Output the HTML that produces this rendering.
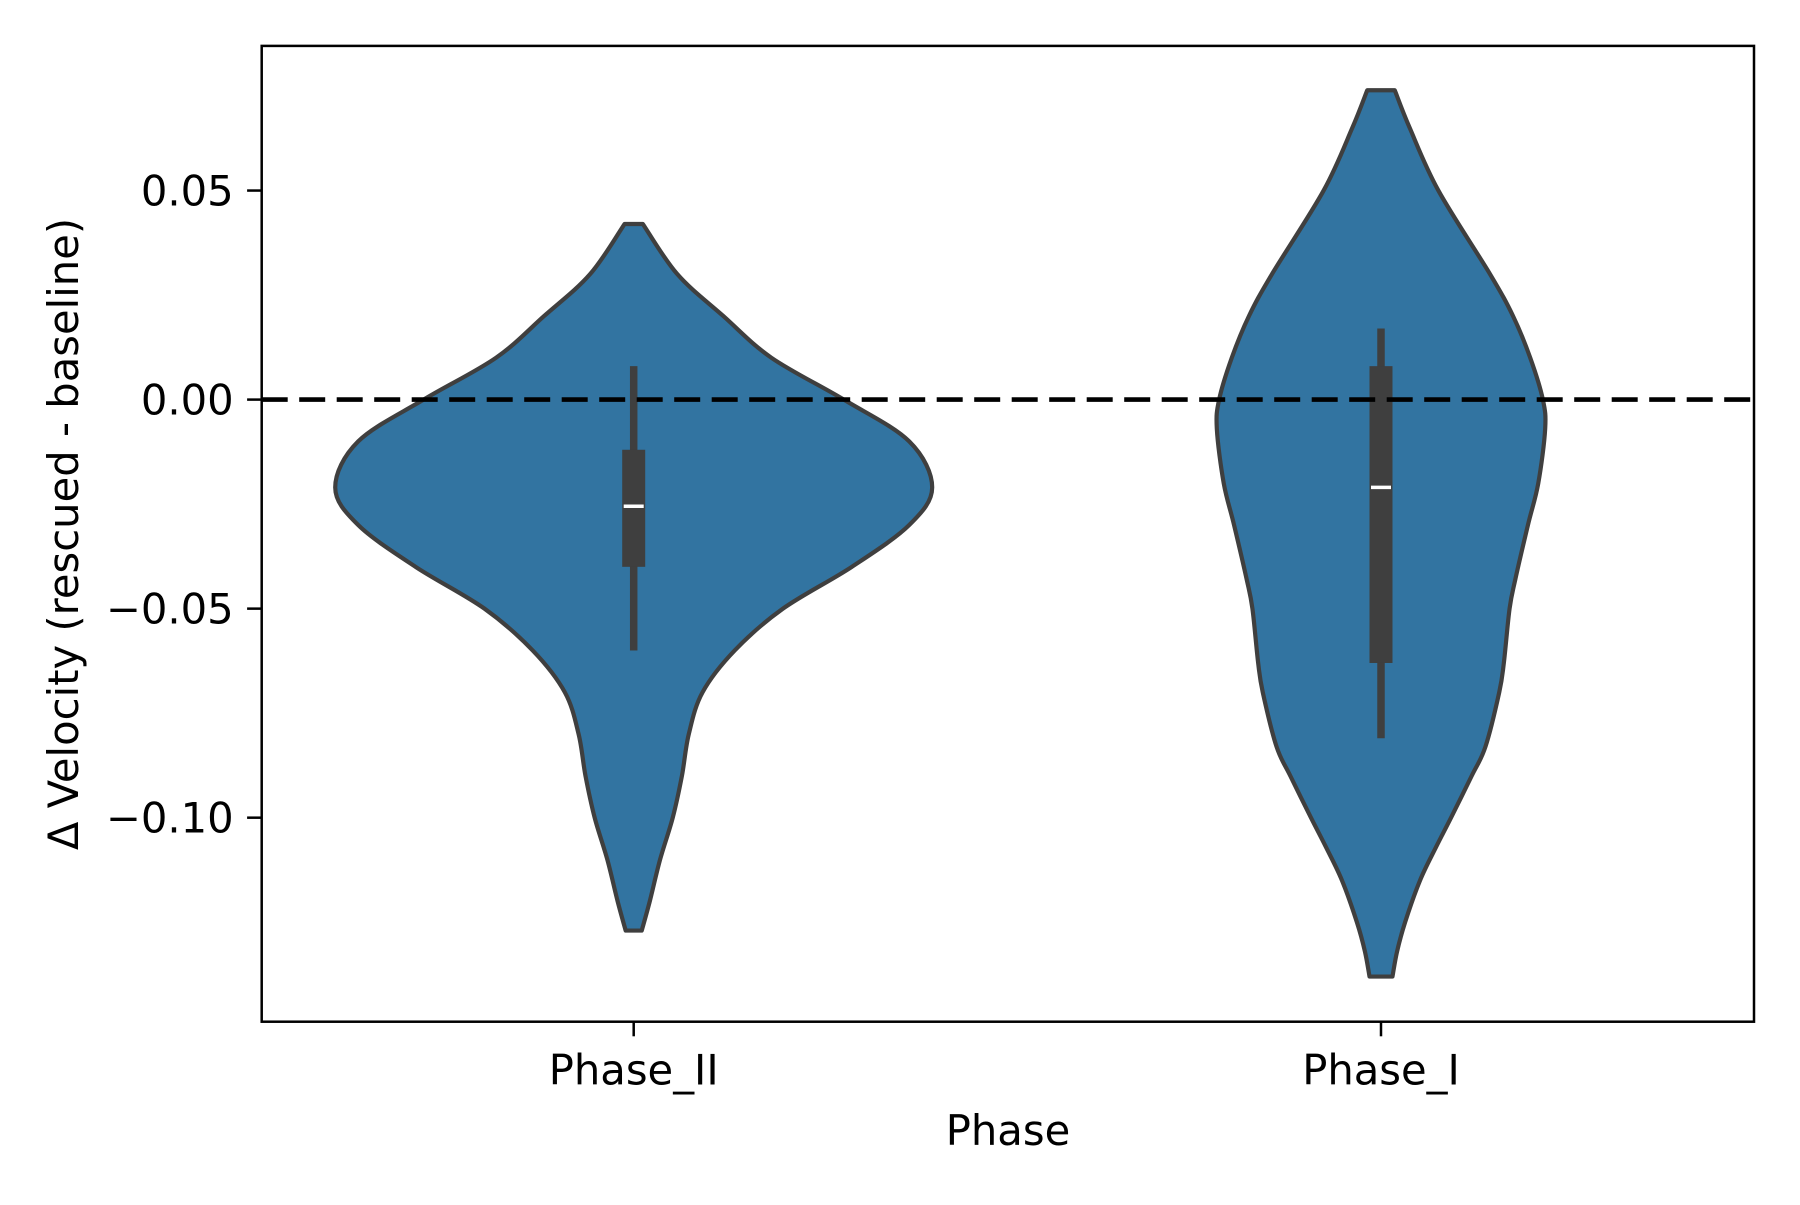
<!DOCTYPE html>
<html><head><meta charset="utf-8"><style>
html,body{margin:0;padding:0;background:#fff;}
svg text{font-family:"DejaVu Sans","Liberation Sans",sans-serif;fill:#000;}
</style></head><body>
<svg id="chart" width="1800" height="1200" viewBox="0 0 1800 1200" xmlns="http://www.w3.org/2000/svg">
<rect x="0" y="0" width="1800" height="1200" fill="#fff"/>
<g id="plot"></g>
<rect x="261.7" y="45.9" width="1492.3" height="975.8" fill="none" stroke="#000" stroke-width="2.5"/>
<g id="axes"></g>
<text x="1008" y="1145" font-size="41.7" text-anchor="middle">Phase</text>
<text transform="translate(78,534) rotate(-90)" font-size="41.7" text-anchor="middle">Δ Velocity (rescued - baseline)</text>
</svg>
<script>
const categories = ["Phase_II", "Phase_I"];
const yTicks = [0.05, 0.0, -0.05, -0.10];
const yTickLabels = ["0.05", "0.00", "\u22120.05", "\u22120.10"];
// violin profiles: values and relative half-widths
const v1Values = [0.042,0.03,0.02,0.01,0.0,-0.01,-0.021,-0.03,-0.04,-0.05,-0.06,-0.07,-0.08,-0.09,-0.10,-0.11,-0.12,-0.127];
const v1Widths = [8,38,78,120,183,240,260,240,190,130,88,60,48,42,34,23,14,7];
const v2Values = [0.074,0.065,0.05,0.03,0.02,0.01,0.0,-0.007,-0.02,-0.03,-0.043,-0.05,-0.063,-0.07,-0.083,-0.09,-0.10,-0.107,-0.115,-0.125,-0.132,-0.138];
const v2Widths = [12,25,50,95,115,130,141,143,137,128,117,112,107,103,91,79,61,48,34,21,14,10];
const q1 = [-0.040, -0.063];
const q3 = [-0.012, 0.008];
const medians = [-0.0255, -0.021];
const whiskLo = [-0.060, -0.081];
const whiskHi = [0.008, 0.017];
const refLine = 0.0;

const L=261.7,R=1754,T=45.9,B=1021.7;
const yMax=0.0846, yMin=-0.1488;
const y = v => T + (yMax - v)/(yMax - yMin)*(B-T);
const xCat = i => 633.7 + i*(1381-633.7);
const wScale = 1.148;
const NS="http://www.w3.org/2000/svg";
const plot=document.getElementById('plot'), axes=document.getElementById('axes');
function mk(tag, attrs, parent){const e=document.createElementNS(NS,tag);for(const k in attrs)e.setAttribute(k,attrs[k]);parent.appendChild(e);return e;}
function smooth(pts){let d=`M${pts[0][0]},${pts[0][1]}`;
 for(let i=0;i<pts.length-1;i++){const p0=pts[Math.max(i-1,0)],p1=pts[i],p2=pts[i+1],p3=pts[Math.min(i+2,pts.length-1)];
  const c1=[p1[0]+(p2[0]-p0[0])/6,p1[1]+(p2[1]-p0[1])/6],c2=[p2[0]-(p3[0]-p1[0])/6,p2[1]-(p3[1]-p1[1])/6];
  d+=` C${c1[0]},${c1[1]} ${c2[0]},${c2[1]} ${p2[0]},${p2[1]}`;}
 return d;}
const profiles=[[v1Values,v1Widths],[v2Values,v2Widths]];
profiles.forEach(([vals,ws],i)=>{
 const cx=xCat(i);
 const right=vals.map((v,k)=>[cx+ws[k]*wScale,y(v)]);
 const left=vals.map((v,k)=>[cx-ws[k]*wScale,y(v)]).reverse();
 let d=smooth(right);
 d+=` L${left[0][0]},${left[0][1]}`+smooth(left).replace(/^M[^C]*/,' ')+' Z';
 const p=mk('path',{d:d,fill:'#3274a1',stroke:'#3f3f3f','stroke-width':4.2,'stroke-linejoin':'round'},plot);
 
 
 const wl=mk('line',{x1:cx,x2:cx,y1:y(whiskHi[i]),y2:y(whiskLo[i]),stroke:'#3f3f3f','stroke-width':7.5},plot);
 
 
 const bx=mk('rect',{x:cx-11.5,y:y(q3[i]),width:23,height:y(q1[i])-y(q3[i]),fill:'#3f3f3f'},plot);
 
 
 const md=mk('line',{x1:cx-10,x2:cx+10,y1:y(medians[i]),y2:y(medians[i]),stroke:'#fff','stroke-width':3.5},plot);
 
 
 const t=mk('line',{x1:cx,x2:cx,y1:B,y2:B+14.6,stroke:'#000','stroke-width':2.5},axes);
 
 
 const lb=mk('text',{x:cx,y:B+63,'font-size':41.7,'text-anchor':'middle'},axes);
 lb.textContent=categories[i];
 
 
});
const rl=mk('line',{x1:L,x2:R,y1:y(refLine),y2:y(refLine),stroke:'#000','stroke-width':4.6,'stroke-dasharray':'26 11.5'},plot);


yTicks.forEach((v,i)=>{
 const t=mk('line',{x1:L-14.6,x2:L,y1:y(v),y2:y(v),stroke:'#000','stroke-width':2.5},axes);
 
 
 const lb=mk('text',{x:L-28,y:y(v)+15,'font-size':41.7,'text-anchor':'end'},axes);
 lb.textContent=yTickLabels[i];
 
 
});
</script>
</body></html>
